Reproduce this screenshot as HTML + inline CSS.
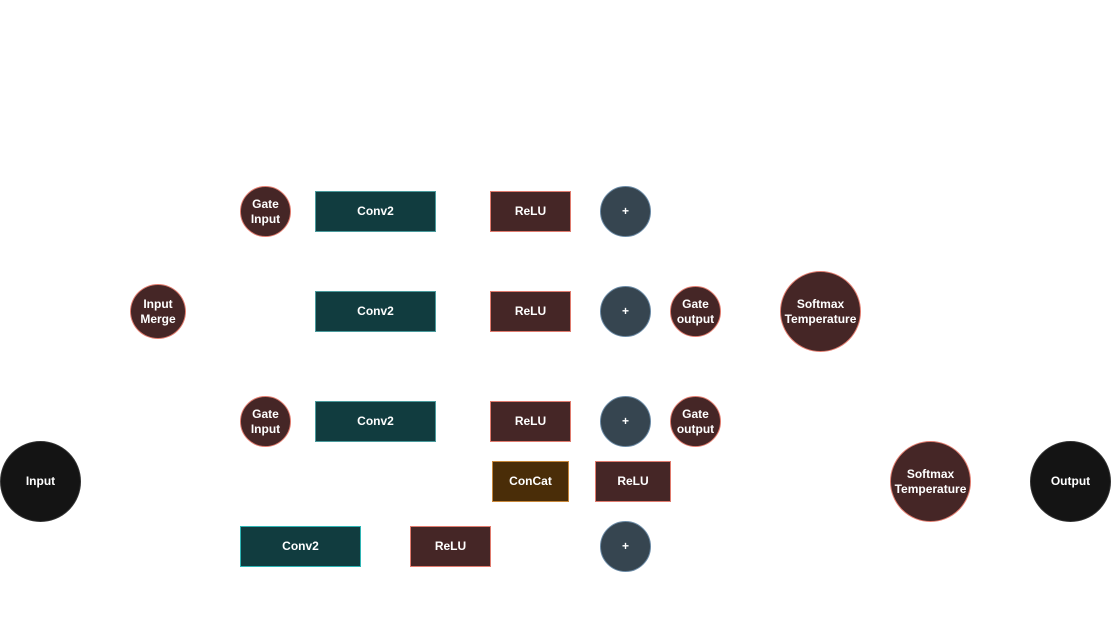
<!DOCTYPE html>
<html><head><style>
body{margin:0;width:1111px;height:640px;background:#fff;position:relative;overflow:hidden;font-family:"Liberation Sans",Arial,sans-serif;}
.n{position:absolute;box-sizing:border-box;display:flex;align-items:center;justify-content:center;text-align:center;color:#fff;font-size:12px;font-weight:bold;line-height:15px;}
.c{border-radius:50%;}
.conv{background:#113c3f;border:1px solid #4a9a9c;}
.relu{background:#452626;border:1px solid #e07b6e;}
.plus{background:#364550;border:1px solid #6b8aa5;}
.gate{background:#452626;border:1px solid #e07b6e;}
.blk{background:#141414;border:1px solid #333;}
.cat{background:#4a2d08;border:1px solid #c8873a;}
</style></head><body>
<div class="n c gate" style="left:240px;top:186px;width:51px;height:51px">Gate<br>Input</div>
<div class="n conv" style="left:315px;top:191px;width:121px;height:41px">Conv2</div>
<div class="n relu" style="left:490px;top:191px;width:81px;height:41px">ReLU</div>
<div class="n c plus" style="left:600px;top:186px;width:51px;height:51px">+</div>

<div class="n c gate" style="left:130px;top:284px;width:56px;height:55px">Input<br>Merge</div>
<div class="n conv" style="left:315px;top:291px;width:121px;height:41px">Conv2</div>
<div class="n relu" style="left:490px;top:291px;width:81px;height:41px">ReLU</div>
<div class="n c plus" style="left:600px;top:286px;width:51px;height:51px">+</div>
<div class="n c gate" style="left:670px;top:286px;width:51px;height:51px">Gate<br>output</div>
<div class="n c gate" style="left:780px;top:271px;width:81px;height:81px">Softmax<br>Temperature</div>

<div class="n c gate" style="left:240px;top:396px;width:51px;height:51px">Gate<br>Input</div>
<div class="n conv" style="left:315px;top:401px;width:121px;height:41px">Conv2</div>
<div class="n relu" style="left:490px;top:401px;width:81px;height:41px">ReLU</div>
<div class="n c plus" style="left:600px;top:396px;width:51px;height:51px">+</div>
<div class="n c gate" style="left:670px;top:396px;width:51px;height:51px">Gate<br>output</div>

<div class="n c blk" style="left:0px;top:441px;width:81px;height:81px">Input</div>
<div class="n cat" style="left:492px;top:461px;width:77px;height:41px">ConCat</div>
<div class="n relu" style="left:595px;top:461px;width:76px;height:41px">ReLU</div>
<div class="n c gate" style="left:890px;top:441px;width:81px;height:81px">Softmax<br>Temperature</div>
<div class="n c blk" style="left:1030px;top:441px;width:81px;height:81px">Output</div>

<div class="n conv" style="left:240px;top:526px;width:121px;height:41px;border-color:#2fb5b5">Conv2</div>
<div class="n relu" style="left:410px;top:526px;width:81px;height:41px">ReLU</div>
<div class="n c plus" style="left:600px;top:521px;width:51px;height:51px">+</div>
</body></html>
